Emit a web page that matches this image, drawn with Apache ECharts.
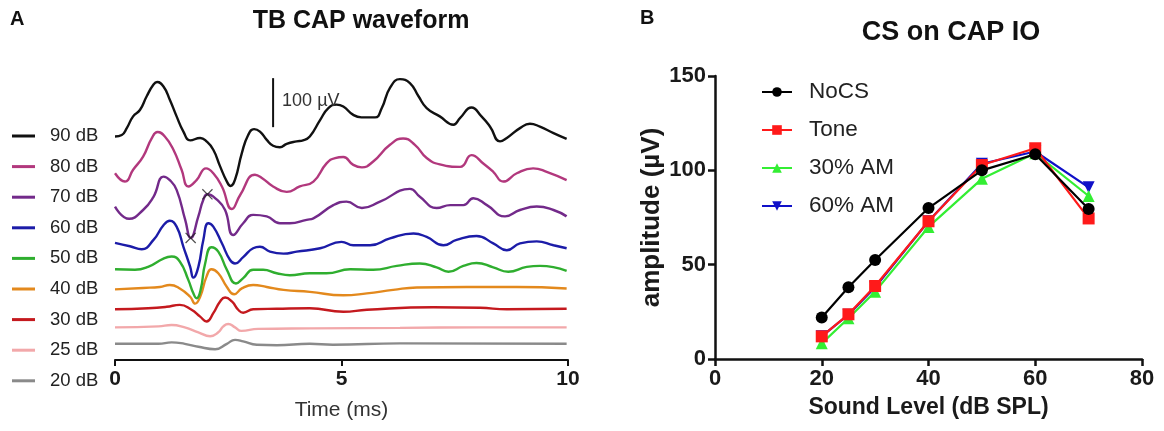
<!DOCTYPE html>
<html>
<head>
<meta charset="utf-8">
<script src="https://cdn.jsdelivr.net/npm/echarts@6/dist/echarts.min.js"></script>
<style>
  html, body { margin: 0; padding: 0; background: #fff; }
  #chart { width: 1164px; height: 431px; }
</style>
</head>
<body>
<div id="chart"></div>
<script>
// ---- Panel A: tone-burst CAP waveforms, [time (ms), amplitude (µV) re. trace start] ----
const levelNames = ['90 dB', '80 dB', '70 dB', '60 dB', '50 dB', '40 dB', '30 dB', '25 dB', '20 dB'];

const trace90 = [[0,0],[0.15,3],[0.26,17],[0.40,41],[0.55,54],[0.70,82],[0.85,106],[0.93,111],[1.07,102],[1.21,75],[1.36,41],[1.51,10],[1.66,-8],[1.88,-3],[2.02,-10],[2.17,-27],[2.32,-61],[2.47,-92],[2.55,-101],[2.65,-88],[2.80,-34],[2.94,3],[3.07,15],[3.20,10],[3.35,-7],[3.49,-19],[3.64,-22],[3.79,-15],[4.01,-10],[4.15,-8],[4.30,0],[4.53,34],[4.71,58],[4.89,65],[5.04,61],[5.26,44],[5.44,39],[5.74,39],[5.89,58],[6.07,99],[6.29,117],[6.51,109],[6.70,82],[6.88,58],[7.17,41],[7.47,24],[7.62,38],[7.87,59],[8.09,41],[8.28,20],[8.50,-10],[8.65,-3],[8.94,17],[9.16,26],[9.38,20],[9.68,7],[9.97,-5]];
const trace80 = [[0,0],[0.22,-17],[0.40,7],[0.62,34],[0.81,71],[0.94,84],[1.10,75],[1.29,48],[1.47,7],[1.62,-27],[1.80,-14],[2.01,10],[2.17,0],[2.36,-27],[2.58,-73],[2.76,-45],[3.09,-3],[3.25,-10],[3.49,-27],[3.79,-38],[4.08,-27],[4.38,-17],[4.67,20],[4.86,31],[5.04,33],[5.26,17],[5.45,12],[5.70,24],[6.07,58],[6.36,71],[6.62,58],[6.88,31],[7.17,18],[7.62,13],[7.87,37],[8.13,20],[8.35,3],[8.57,-17],[8.87,0],[9.23,10],[9.53,3],[9.97,-14]];
const trace70 = [[0,0],[0.31,-25],[0.62,-7],[0.85,20],[1.07,61],[1.21,54],[1.36,34],[1.55,-27],[1.67,-64],[1.84,-20],[1.95,14],[2.04,25],[2.25,14],[2.43,-7],[2.61,-58],[2.83,-34],[3.05,-17],[3.35,-20],[3.64,-34],[3.86,-34],[4.23,-27],[4.38,-24],[4.82,3],[5.11,10],[5.45,-3],[5.85,10],[6.51,36],[6.73,20],[7.10,-3],[7.40,3],[7.69,3],[7.91,17],[8.21,3],[8.61,-20],[8.94,-7],[9.31,0],[9.68,-7],[9.97,-20]];
const trace60 = [[0,0],[0.33,-7],[0.59,-13],[0.85,6],[1.07,36],[1.21,45],[1.36,33],[1.51,-8],[1.66,-49],[1.73,-71],[1.84,-49],[1.95,6],[2.06,40],[2.17,33],[2.36,-1],[2.54,-35],[2.65,-42],[2.83,-29],[3.05,-11],[3.20,-8],[3.42,-18],[3.72,-22],[4.01,-18],[4.53,-11],[5.00,2],[5.26,-5],[5.63,-5],[6.07,9],[6.59,19],[6.88,12],[7.25,-5],[7.54,6],[7.98,14],[8.35,-1],[8.65,-15],[8.94,-1],[9.31,3],[9.68,-5],[9.97,-11]];
const trace50 = [[0,0],[0.44,-1],[0.73,5],[1.07,22],[1.25,26],[1.43,16],[1.62,-22],[1.73,-49],[1.80,-59],[1.89,-42],[1.99,12],[2.13,45],[2.28,36],[2.47,-1],[2.67,-29],[2.83,-18],[3.05,-1],[3.27,-1],[3.57,-8],[3.86,-12],[4.30,-8],[4.67,-8],[5.19,0],[5.70,-1],[6.22,7],[6.73,12],[7.10,4],[7.36,-5],[7.69,7],[7.98,13],[8.35,4],[8.68,-5],[9.09,5],[9.38,7],[9.97,-3]];
const trace40 = [[0,0],[0.62,3],[0.99,5],[1.21,9],[1.43,2],[1.66,-15],[1.77,-29],[1.88,-15],[2.02,26],[2.13,41],[2.28,33],[2.47,5],[2.63,-10],[2.80,2],[3.05,9],[3.35,5],[3.72,-1],[4.30,-5],[5.04,-12],[5.56,-8],[6.14,-1],[6.66,4],[7.76,5],[8.87,5],[9.97,2]];
const trace30 = [[0,0],[0.73,2],[1.14,5],[1.43,9],[1.69,-1],[1.88,-15],[2.02,-25],[2.17,-8],[2.32,16],[2.43,24],[2.58,16],[2.72,-1],[2.83,-7],[3.05,0],[3.57,1],[4.30,2],[5.04,-5],[5.56,-1],[7.03,4],[8.06,3],[8.65,0],[9.97,1]];
const trace25 = [[0,0],[0.96,2],[1.25,5],[1.54,0],[1.84,-10],[2.10,-18],[2.28,-10],[2.39,2],[2.50,7],[2.65,0],[2.79,-7],[3.16,-3],[4.30,-2],[6.29,-1],[8.06,0],[9.97,0]];
const trace20 = [[0,0],[0.96,0],[1.25,3],[1.54,0],[1.84,-6],[2.21,-11],[2.47,0],[2.65,8],[2.83,5],[3.13,-2],[3.57,-3],[4.30,0],[4.81,-2],[6.29,1],[9.97,0]];

// Marked trough / peak on the 70 dB trace (ms, µV)
const marks70 = [[1.67, -64], [2.04, 25]];

const timeTicks = [0, 5, 10];

// ---- Panel B: CAP input/output under contralateral stimulation ----
const soundLevels = [20, 25, 30, 40, 50, 60, 70];
const ampNoCS = [22, 38, 52.5, 80, 100, 108.5, 79.5];
const ampTone = [12, 23.7, 38.7, 73, 102.8, 111.7, 74.5];
const amp30AM = [8.3, 21.6, 35.7, 70, 95.5, 109, 86.4];
const amp60AM = [12, 23.5, 38, 73, 103.5, 110, 91];

// ---- layout / style ----
const FONT = 'Arial, "Liberation Sans", Helvetica, sans-serif';
const traceColors = ['#111111', '#b2387d', '#732a8a', '#1c1ca8', '#2fae2f', '#e3891d', '#c4191e', '#f2a8aa', '#8a8a8a'];
const traces = [trace90, trace80, trace70, trace60, trace50, trace40, trace30, trace25, trace20];
// vertical stacking of the traces (µV above the time axis)
const traceOffset = [456, 381, 313, 239, 185, 144, 103.5, 66.5, 33];
const SCALE_BAR = { time: 3.49, base: 475, length: 100 };

const waveSeries = traces.map((tr, i) => ({
  name: levelNames[i],
  type: 'line',
  xAxisIndex: 0, yAxisIndex: 0,
  data: tr.map(([t, v]) => [t, v + traceOffset[i]]),
  smooth: 0.5,
  showSymbol: false,
  symbol: 'none',
  lineStyle: { color: traceColors[i], width: 2.4 },
  itemStyle: { color: traceColors[i] },
  z: 10 - i,
  silent: true
}));

const crossPath = 'path://M0,0.8L0.8,0L5,4.2L9.2,0L10,0.8L5.8,5L10,9.2L9.2,10L5,5.8L0.8,10L0,9.2L4.2,5Z';
const markSeries = {
  type: 'scatter',
  xAxisIndex: 0, yAxisIndex: 0,
  data: marks70.map(([t, v]) => [t, v + traceOffset[2]]),
  symbol: crossPath,
  symbolSize: 11,
  itemStyle: { color: '#222' },
  z: 20, silent: true
};

const scaleBarSeries = {
  type: 'line',
  xAxisIndex: 0, yAxisIndex: 0,
  data: [[SCALE_BAR.time, SCALE_BAR.base], [SCALE_BAR.time, SCALE_BAR.base + SCALE_BAR.length]],
  showSymbol: false, symbol: 'none',
  lineStyle: { color: '#111', width: 2 },
  endLabel: {
    show: true,
    formatter: SCALE_BAR.length + ' µV',
    fontFamily: FONT, fontSize: 18, color: '#333',
    offset: [1, 23]
  },
  z: 20, silent: true
};

const ioColors = ['#000000', '#ff1a1a', '#33ee33', '#1010c8'];
const ioNames = ['NoCS', 'Tone', '30% AM', '60% AM'];
const ioSymbols = ['circle', 'rect', 'triangle', 'path://M0,0L10,0L5,9Z'];
const ioData = [ampNoCS, ampTone, amp30AM, amp60AM];
const ioOrder = [3, 2, 1, 0]; // draw blue first so the others sit on top
const ioSeries = ioOrder.map(k => ({
  name: ioNames[k],
  type: 'line',
  xAxisIndex: 1, yAxisIndex: 1,
  data: soundLevels.map((x, j) => [x, ioData[k][j]]),
  symbol: ioSymbols[k],
  symbolSize: 12,
  lineStyle: { color: ioColors[k], width: 2.2 },
  itemStyle: { color: ioColors[k] },
  z: 10 + (3 - k),
  silent: true
}));

const boldTickA = { fontFamily: FONT, fontWeight: 'bold', fontSize: 21, color: '#1a1a1a' };
const boldTickB = { fontFamily: FONT, fontWeight: 'bold', fontSize: 22, color: '#1a1a1a' };

const option = {
  backgroundColor: '#ffffff',
  animation: false,
  textStyle: { fontFamily: FONT },
  title: [
    { text: 'A', left: 5, top: 4, textStyle: { fontFamily: FONT, fontWeight: 'bold', fontSize: 20, color: '#111' } },
    { text: 'TB CAP waveform', left: 356, top: 4, textAlign: 'center', textStyle: { fontFamily: FONT, fontWeight: 'bold', fontSize: 25, color: '#111' } },
    { text: 'B', left: 635, top: 3, textStyle: { fontFamily: FONT, fontWeight: 'bold', fontSize: 20, color: '#111' } },
    { text: 'CS on CAP IO', left: 946, top: 14, textAlign: 'center', textStyle: { fontFamily: FONT, fontWeight: 'bold', fontSize: 27, color: '#111' } }
  ],
  legend: [
    {
      data: levelNames,
      orient: 'vertical',
      left: 7, top: 121,
      itemWidth: 23, itemHeight: 3,
      icon: 'rect',
      itemGap: 10.6,
      textStyle: { fontFamily: FONT, fontSize: 18.5, color: '#222', lineHeight: 20, padding: [0, 0, 0, 10] },
      selectedMode: false
    },
    {
      data: ioNames,
      orient: 'vertical',
      left: 756, top: 74,
      itemWidth: 30, itemHeight: 12,
      itemGap: 12,
      textStyle: { fontFamily: FONT, fontSize: 22.5, color: '#222', lineHeight: 26, padding: [0, 0, 0, 12] },
      selectedMode: false
    }
  ],
  grid: [
    { left: 115, top: 60, width: 453, height: 300 },
    { left: 715, top: 76, width: 427, height: 283 }
  ],
  xAxis: [
    {
      gridIndex: 0, type: 'value', min: 0, max: 10, interval: 5,
      name: 'Time (ms)', nameLocation: 'middle', nameGap: 40,
      nameTextStyle: { fontFamily: FONT, fontSize: 21, color: '#333' },
      axisLine: { show: true, onZero: false, lineStyle: { color: '#111', width: 2 } },
      axisTick: { show: true, length: 6, lineStyle: { color: '#111', width: 2 } },
      axisLabel: Object.assign({ margin: 9, customValues: timeTicks }, boldTickA),
      splitLine: { show: false }
    },
    {
      gridIndex: 1, type: 'value', min: 0, max: 80, interval: 20,
      name: 'Sound Level (dB SPL)', nameLocation: 'middle', nameGap: 37,
      nameTextStyle: { fontFamily: FONT, fontSize: 23, fontWeight: 'bold', color: '#1a1a1a' },
      axisLine: { show: true, onZero: false, lineStyle: { color: '#111', width: 2.5 } },
      axisTick: { show: true, length: 7, lineStyle: { color: '#111', width: 2.5 } },
      axisLabel: Object.assign({ margin: 9 }, boldTickB),
      splitLine: { show: false }
    }
  ],
  yAxis: [
    {
      gridIndex: 0, type: 'value', min: 0, max: 612, show: false,
      splitLine: { show: false }
    },
    {
      gridIndex: 1, type: 'value', min: 0, max: 150, interval: 50,
      name: 'amplitude (µV)', nameLocation: 'middle', nameGap: 50,
      nameTextStyle: { fontFamily: FONT, fontSize: 26, fontWeight: 'bold', color: '#1a1a1a' },
      axisLine: { show: true, onZero: false, lineStyle: { color: '#111', width: 2.5 } },
      axisTick: { show: true, length: 7, lineStyle: { color: '#111', width: 2.5 } },
      axisLabel: Object.assign({ margin: 9 }, boldTickB),
      splitLine: { show: false }
    }
  ],
  series: [...waveSeries, markSeries, scaleBarSeries, ...ioSeries]
};

const chart = echarts.init(document.getElementById('chart'), null, { renderer: 'canvas' });
chart.setOption(option);
</script>
</body>
</html>
